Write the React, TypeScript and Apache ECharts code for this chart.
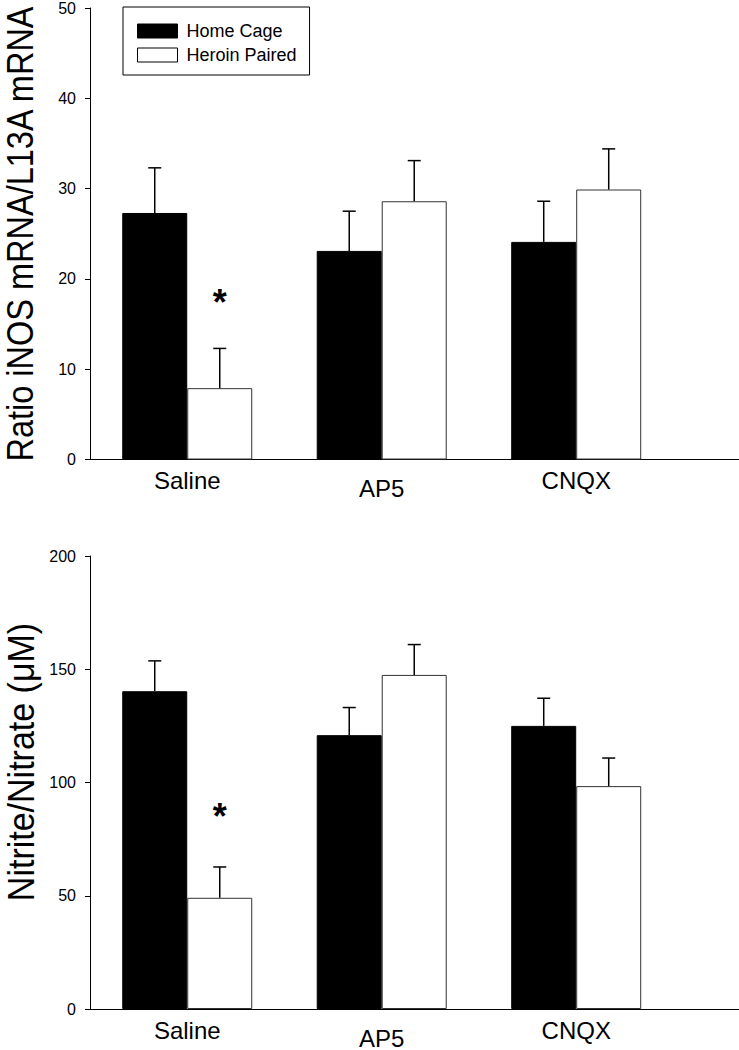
import React, { useEffect, useRef } from "react";
import * as echarts from "echarts";

const categories = ["Saline", "AP5", "CNQX"];
const categoryPos = [0.5, 1.5, 2.5];
const xMax = 3.337;

// Top panel: Ratio iNOS mRNA / L13A mRNA
const mrnaHome = [27.3, 23.1, 24.1];
const mrnaHomeSE = [5.0, 4.4, 4.5];
const mrnaHeroin = [7.9, 28.6, 29.9];
const mrnaHeroinSE = [4.4, 4.5, 4.5];
const mrnaStar = [[0.5, 18.3]];

// Bottom panel: Nitrite/Nitrate (µM)
const noxHome = [140.3, 120.9, 125.0];
const noxHomeSE = [13.4, 12.2, 12.2];
const noxHeroin = [49.1, 147.5, 98.4];
const noxHeroinSE = [13.6, 13.4, 12.4];
const noxStar = [[0.5, 88.7]];

const topName = "Ratio iNOS mRNA/L13A mRNA";
const bottomName = "Nitrite/Nitrate (\u03BCM)";

const FONT = "'Liberation Sans', Arial, sans-serif";
const BAR_W = 65;

function errRender(offset: number) {
  return (params: any, api: any) => {
    const c = api.value(0);
    const m = api.value(1);
    const se = api.value(2);
    const base = api.coord([c, m]);
    const top = api.coord([c, m + se]);
    const x = base[0] + offset;
    return {
      type: "group",
      children: [
        { type: "line", shape: { x1: x, y1: base[1], x2: x, y2: top[1] }, style: { stroke: "#000", lineWidth: 1.5 } },
        { type: "line", shape: { x1: x - 6.5, y1: top[1], x2: x + 6.5, y2: top[1] }, style: { stroke: "#000", lineWidth: 1.5 } },
      ],
    };
  };
}

function starRender(offset: number) {
  return (params: any, api: any) => {
    const p = api.coord([api.value(0), api.value(1)]);
    const fs = 36;
    return {
      type: "text",
      x: p[0] + offset,
      y: p[1] + fs * 0.24,
      style: { text: "*", fontSize: fs, fontWeight: "bold", fontFamily: FONT, fill: "#000", align: "center", verticalAlign: "middle" },
    };
  };
}

function catLabel(v: number) {
  for (let i = 0; i < categoryPos.length; i++) {
    if (Math.abs(v - categoryPos[i]) < 1e-6) {
      const name = categories[i];
      return name === "AP5" ? `{low|${name}}` : `{n|${name}}`;
    }
  }
  return "";
}

function xAxisCfg(gridIndex: number) {
  return {
    gridIndex,
    type: "value",
    min: 0,
    max: xMax,
    interval: 0.5,
    axisLine: { show: true, onZero: false, lineStyle: { color: "#000", width: 1 } },
    axisTick: { show: false },
    axisLabel: {
      margin: 9,
      color: "#000",
      fontFamily: FONT,
      fontSize: 24,
      showMinLabel: false,
      showMaxLabel: false,
      formatter: catLabel,
      rich: {
        n: { fontSize: 24, fontFamily: FONT, color: "#000" },
        low: { fontSize: 24, fontFamily: FONT, color: "#000", padding: [8, 0, 0, 0] },
      },
    },
    splitLine: { show: false },
  };
}

function yAxisCfg(gridIndex: number, max: number, interval: number) {
  return {
    gridIndex,
    type: "value",
    min: 0,
    max,
    interval,
    axisLine: { show: true, lineStyle: { color: "#000", width: 1 } },
    axisTick: { show: true, length: 5, lineStyle: { color: "#000", width: 1 } },
    axisLabel: { fontSize: 16, color: "#000", margin: 14, fontFamily: FONT },
    splitLine: { show: false },
  };
}

function panelSeries(idx: number, home: number[], homeSE: number[], heroin: number[], heroinSE: number[], star: number[][]) {
  return [
    {
      name: "Home Cage",
      type: "bar",
      xAxisIndex: idx,
      yAxisIndex: idx,
      data: home.map((v, i) => [categoryPos[i], v]),
      barWidth: BAR_W,
      barGap: "0%",
      itemStyle: { color: "#000", borderColor: "#000", borderWidth: 1 },
    },
    {
      name: "Heroin Paired",
      type: "bar",
      xAxisIndex: idx,
      yAxisIndex: idx,
      data: heroin.map((v, i) => [categoryPos[i], v]),
      barWidth: BAR_W,
      barGap: "0%",
      itemStyle: { color: "#fff", borderColor: "#333", borderWidth: 1 },
    },
    {
      type: "custom",
      xAxisIndex: idx,
      yAxisIndex: idx,
      renderItem: errRender(-BAR_W / 2),
      data: home.map((v, i) => [categoryPos[i], v, homeSE[i]]),
      encode: { x: 0, y: 1 },
      clip: false,
      silent: true,
      z: 5,
    },
    {
      type: "custom",
      xAxisIndex: idx,
      yAxisIndex: idx,
      renderItem: errRender(BAR_W / 2),
      data: heroin.map((v, i) => [categoryPos[i], v, heroinSE[i]]),
      encode: { x: 0, y: 1 },
      clip: false,
      silent: true,
      z: 5,
    },
    {
      type: "custom",
      xAxisIndex: idx,
      yAxisIndex: idx,
      renderItem: starRender(BAR_W / 2),
      data: star,
      encode: { x: 0, y: 1 },
      clip: false,
      silent: true,
      z: 6,
    },
  ];
}

export default function App() {
  const ref = useRef<HTMLDivElement>(null);
  useEffect(() => {
    if (!ref.current) return;
    const chart = echarts.init(ref.current, undefined, { renderer: "svg" });
    chart.setOption({
      animation: false,
      backgroundColor: "#fff",
      textStyle: { fontFamily: FONT },
      grid: [
        { left: 90, top: 7, right: 0, height: 452.5 },
        { left: 90, top: 556, right: 0, height: 453 },
      ],
      xAxis: [xAxisCfg(0), xAxisCfg(1)],
      yAxis: [yAxisCfg(0, 50, 10), yAxisCfg(1, 200, 50)],
      legend: {
        left: 123,
        top: 7,
        orient: "vertical",
        icon: "rect",
        itemWidth: 40,
        itemHeight: 14,
        itemGap: 6,
        padding: [15, 13, 11, 14],
        borderColor: "#000",
        borderWidth: 1,
        selectedMode: false,
        textStyle: { fontSize: 18, color: "#000", fontFamily: FONT, lineHeight: 14, padding: [0, 0, 0, 4] },
        data: [
          { name: "Home Cage", itemStyle: { color: "#000", borderColor: "#000", borderWidth: 1 } },
          { name: "Heroin Paired", itemStyle: { color: "#fff", borderColor: "#000", borderWidth: 1 } },
        ],
      },
      graphic: [
        {
          type: "text",
          x: 20,
          y: 234,
          rotation: Math.PI / 2,
          scaleY: 1.15,
          style: { text: topName, fontSize: 32.5, fontFamily: FONT, fill: "#000", align: "center", verticalAlign: "middle" },
        },
        {
          type: "text",
          x: 21,
          y: 762,
          rotation: Math.PI / 2,
          scaleY: 1.08,
          style: { text: bottomName, fontSize: 34, fontFamily: FONT, fill: "#000", align: "center", verticalAlign: "middle" },
        },
      ],
      series: [
        ...panelSeries(0, mrnaHome, mrnaHomeSE, mrnaHeroin, mrnaHeroinSE, mrnaStar),
        ...panelSeries(1, noxHome, noxHomeSE, noxHeroin, noxHeroinSE, noxStar),
      ],
    });
    return () => chart.dispose();
  }, []);
  return (
    <div
      ref={ref}
      style={{ position: "absolute", left: 0, top: 0, width: 739, height: 1050, background: "#fff" }}
    />
  );
}
